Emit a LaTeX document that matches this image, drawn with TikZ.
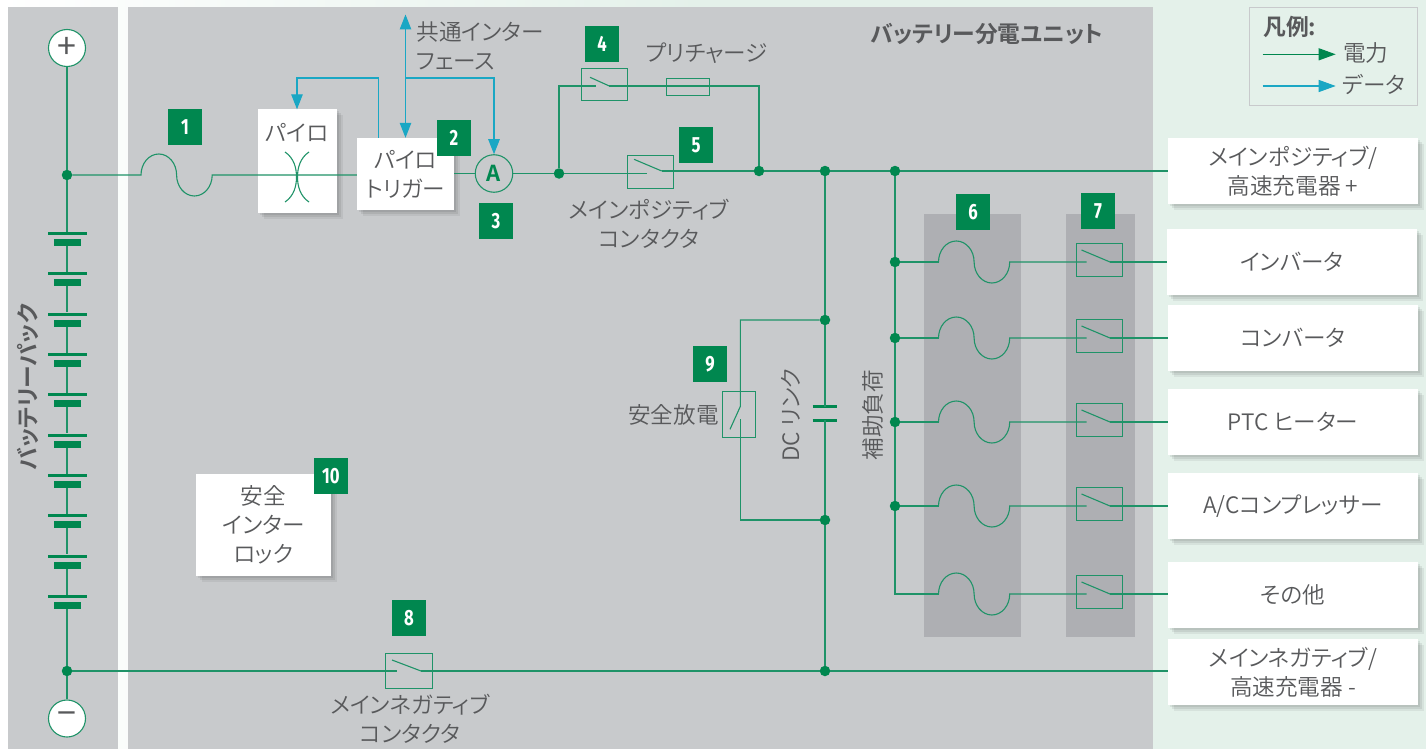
\documentclass[tikz,border=0pt]{standalone}
\usepackage{fontspec}
\setmainfont{Noto Sans CJK JP DemiLight}[RawFeature=+palt, BoldFont={Noto Sans CJK JP Bold}]
\newfontfamily\termfont{Noto Sans CJK JP}
\newfontfamily\badgefont[FakeStretch=0.76]{Fira Sans}
\usetikzlibrary{arrows.meta, positioning, shadows, calc}
\definecolor{bggreen}{HTML}{E4F1EA}
\definecolor{panelgrey}{HTML}{C8CACC}
\definecolor{darkpanel}{HTML}{AEAFB3}
\definecolor{wirecol}{HTML}{1F9368}
\definecolor{dotcol}{HTML}{00874F}
\definecolor{datacol}{HTML}{1AA7C4}
\definecolor{textcol}{HTML}{58595B}
\newcommand{\fusewave}{arc[start angle=180,end angle=360,x radius=17.8,y radius=21] arc[start angle=180,end angle=0,x radius=17.8,y radius=21]}

\begin{document}
\begin{tikzpicture}[x=1pt, y=-1pt,
    wire/.style={draw=wirecol, line width=1.1pt},
    dataline/.style={draw=datacol, line width=1.1pt},
    datahead/.style={-{Triangle[length=15pt,width=11.5pt]}},
    dot/.style={circle, fill=dotcol, inner sep=0pt, minimum size=10.5pt},
    badge/.style={rectangle, fill=dotcol, text=white, font=\badgefont\bfseries\fontsize{22}{22}\selectfont, minimum width=34pt, minimum height=36pt, inner sep=0pt},
    swbox/.style={rectangle, draw=wirecol, line width=1.1pt, inner sep=0pt},
    label/.style={text=textcol, inner sep=0pt, align=center, font=\fontsize{22.6}{29}\selectfont},
    head/.style={text=textcol, inner sep=0pt, font=\bfseries\fontsize{22.8}{29}\selectfont},
    card/.style={rectangle, fill=white, text=textcol, inner sep=0pt, align=center, font=\fontsize{22.6}{29}\selectfont,
        general shadow={fill=black, opacity=.07, shadow xshift=2pt, shadow yshift=-2pt},
        general shadow={fill=black, opacity=.07, shadow xshift=4pt, shadow yshift=-4pt},
        general shadow={fill=black, opacity=.06, shadow xshift=6pt, shadow yshift=-6pt}},
    terminal/.style={circle, draw=wirecol, fill=white, line width=1.1pt, minimum size=37pt, inner sep=0pt, text=textcol, font=\termfont\fontsize{34}{34}\selectfont}]

    % Background
    \fill[bggreen] (0,0) rectangle (1426,749);
    \shade[left color=white, right color=bggreen] (0,0) rectangle (700,749);
    \fill[panelgrey] (8,7) rectangle (118,749);
    \fill[panelgrey] (128,7) rectangle (1153,749);
    \fill[darkpanel] (924,214) rectangle (1021,637);
    \fill[darkpanel] (1066,214) rectangle (1135,637);

    % Boxes
    \node[card, minimum width=79pt, minimum height=103pt] (pyro) at (297.5,161) {};
    \node[label] (pyrotext) at (297,132.5) {パイロ};
    \node[card, minimum width=97pt, minimum height=72pt] (trigger) at (405.5,174) {パイロ\\トリガー};
    \node[card, minimum width=135pt, minimum height=102pt] (interlock) at (263.5,525) {安全\\インター\\ロック};
    \node[card, minimum width=250pt, minimum height=66pt] (mainpos) at (1293,171) {メインポジティブ/\\高速充電器 +};
    \node[card, minimum width=250pt, minimum height=66pt] (inverter) at (1292,262) {インバータ};
    \node[card, minimum width=250pt, minimum height=66pt] (converter) at (1293,338) {コンバータ};
    \node[card, minimum width=250pt, minimum height=66pt] (ptc) at (1293,422) {PTC ヒーター};
    \node[card, minimum width=250pt, minimum height=66pt] (aircon) at (1293,506) {A/Cコンプレッサー};
    \node[card, minimum width=250pt, minimum height=66pt] (other) at (1293,595) {その他};
    \node[card, minimum width=250pt, minimum height=66pt] (mainneg) at (1293,672) {メインネガティブ/\\高速充電器 -};

    % Terminals, junctions
    \node[terminal] (plus) at (67,48) {+};
    \node[terminal] (minus) at (67,718.5) {−};
    \node[dot] (jplus) at (67,175) {};
    \node[dot] (jminus) at (67,671) {};
    \node[dot] (jpre) at (559,173.5) {};
    \node[dot] (jpost) at (759,171) {};
    \node[dot] (jlink) at (825,171) {};
    \node[dot] (jaux) at (895,171) {};
    \node[dot] (jdisa) at (825,320) {};
    \node[dot] (jdisb) at (825,520) {};
    \node[dot] (jneg) at (825,671) {};
    \node[circle, draw=wirecol, line width=1.1pt, minimum size=37.5pt, inner sep=0pt, text=dotcol, font=\bfseries\fontsize{22}{22}\selectfont] (amp) at (494,173.5) {A};

    % Battery
    \coordinate (cellin) at (67,233.5);
    \draw[wire] (plus) -- (jplus);
    \draw[wire] (jplus) -- (cellin);
    \foreach \c in {0,...,9} {
        \fill[dotcol] (48,232+40.33*\c) rectangle (87,235+40.33*\c);
        \fill[dotcol] (54,239+40.33*\c) rectangle (81,246+40.33*\c);
    }
    \foreach \c in {0,...,8} {
        \draw[wire] (67,246+40.33*\c) -- (67,272+40.33*\c);
    }
    \coordinate (cellout) at (67,609);
    \draw[wire] (cellout) -- (jminus);
    \draw[wire] (jminus) -- (minus);

    % Main positive line
    \coordinate (fusea) at (141,175);
    \coordinate (fuseb) at (212,175);
    \draw[wire] (jplus) -- (fusea) \fusewave -- (trigger.west |- fuseb);
    \draw[wire] (trigger.east |- amp) -- (amp);
    \draw[wire] (amp) -- (jpre);
    \node[swbox, minimum width=46pt, minimum height=33pt] (swmain) at (650.7,171.8) {};
    \coordinate (swmainin) at (646.7,173.5);
    \coordinate (swmaintip) at (634,159.3);
    \coordinate (swmainout) at (661.7,171);
    \draw[wire] (jpre) -- (swmainin);
    \draw[wire] (swmaintip) -- (swmainout);
    \draw[wire] (swmainout) -- (jpost);
    \draw[wire] (jpost) -- (jlink);
    \draw[wire] (jlink) -- (jaux);
    \draw[wire] (jaux) -- (mainpos.west |- jaux);

    % Pyro fuse symbol
    \coordinate (pyrotl) at (285,152);
    \coordinate (pyrobl) at (285,202);
    \coordinate (pyrotr) at (309,152);
    \coordinate (pyrobr) at (309,202);
    \draw[wire] (pyrotl) .. controls (294,158) and (296.5,168) .. (296.5,177) .. controls (296.5,186) and (294,196) .. (pyrobl);
    \draw[wire] (pyrotr) .. controls (300,158) and (297.5,168) .. (297.5,177) .. controls (297.5,186) and (300,196) .. (pyrobr);

    % Precharge
    \node[swbox, minimum width=46pt, minimum height=32.5pt] (swpre) at (604.5,84.5) {};
    \node[swbox, minimum width=43pt, minimum height=17pt] (resistor) at (688,86.8) {};
    \coordinate (prea) at (559,86);
    \coordinate (swprein) at (595.7,86);
    \coordinate (swpretip) at (590,77.3);
    \coordinate (swpreout) at (609.3,86);
    \coordinate (preb) at (759,86);
    \draw[wire] (jpre) -- (prea) -- (swprein);
    \draw[wire] (swpretip) -- (swpreout);
    \draw[wire] (swpreout) -- (preb) -- (jpost);

    % DC link
    \node[swbox, minimum width=32.5pt, minimum height=46pt] (swdis) at (739,414.7) {};
    \coordinate (disa) at (740.3,320);
    \coordinate (disin) at (740.3,406.5);
    \coordinate (distip) at (730,429.3);
    \coordinate (disout) at (740.3,419.3);
    \coordinate (disb) at (740.3,520);
    \coordinate (capa) at (825,406.7);
    \coordinate (capb) at (825,420.3);
    \draw[wire] (jdisa) -- (disa) -- (disin) -- (distip);
    \draw[wire] (disout) -- (disb) -- (jdisb);
    \draw[dotcol, line width=3pt] (812.7,406.7) -- (837.3,406.7);
    \draw[dotcol, line width=3pt] (812.7,420.3) -- (837.3,420.3);
    \draw[wire] (jlink) -- (jdisa);
    \draw[wire] (jdisa) -- (capa);
    \draw[wire] (capb) -- (jdisb);
    \draw[wire] (jdisb) -- (jneg);

    % Main negative line
    \node[swbox, minimum width=47.5pt, minimum height=35pt] (swneg) at (409,670.7) {};
    \coordinate (swnegin) at (397,671);
    \coordinate (swnegtip) at (392,660);
    \coordinate (swnegout) at (421,671);
    \draw[wire] (jminus) -- (swnegin);
    \draw[wire] (swnegtip) -- (swnegout);
    \draw[wire] (swnegout) -- (jneg);
    \draw[wire] (jneg) -- (mainneg.west |- jneg);

    % Auxiliary loads
    \foreach \n/\yy/\load in {1/262/inverter,2/338/converter,3/422/ptc,4/506/aircon,5/594/other} {
        \coordinate (fusein\n) at (938.5,\yy);
        \coordinate (fuseout\n) at (1009.7,\yy);
        \node[swbox, minimum width=46.5pt, minimum height=33pt] (sw\n) at (1099.5,\yy-2) {};
        \coordinate (swin\n) at (1086.5,\yy);
        \coordinate (swtip\n) at (1081.5,\yy-12);
        \coordinate (swout\n) at (1110,\yy);
        \draw[wire] (fusein\n) \fusewave -- (swin\n);
        \draw[wire] (swtip\n) -- (swout\n);
        \draw[wire] (swout\n) -- (swout\n -| \load.west);
    }
    \node[dot] (jaux1) at (895,262) {};
    \node[dot] (jaux2) at (895,338) {};
    \node[dot] (jaux3) at (895,422) {};
    \node[dot] (jaux4) at (895,506) {};
    \coordinate (auxend) at (895,594);
    \draw[wire] (jaux) -- (jaux1);
    \draw[wire] (jaux1) -- (jaux2);
    \draw[wire] (jaux2) -- (jaux3);
    \draw[wire] (jaux3) -- (jaux4);
    \draw[wire] (jaux4) -- (auxend) -- (fusein5);
    \draw[wire] (jaux1) -- (fusein1);
    \draw[wire] (jaux2) -- (fusein2);
    \draw[wire] (jaux3) -- (fusein3);
    \draw[wire] (jaux4) -- (fusein4);

    % Data lines
    \coordinate (bustop) at (405.5,14.5);
    \coordinate (busmid) at (405.5,78);
    \coordinate (busamp) at (494,78);
    \coordinate (trigout) at (378.6,78);
    \coordinate (pyroin) at (297,78);
    \draw[dataline, {Triangle[length=15pt,width=11.5pt]}-{Triangle[length=15pt,width=11.5pt]}] (bustop) -- (bustop |- trigger.north);
    \draw[dataline, datahead] (busmid) -- (busamp) -- (amp.north);
    \draw[dataline, datahead] (trigout |- trigger.north) -- (trigout) -- (pyroin) -- (pyroin |- pyro.north);

    % Labels
    \node[label, align=left] (lbus) at (480,45.5) {共通インター\\フェース};
    \node[label] (lpre) at (706.7,53) {プリチャージ};
    \node[label] (lposc) at (649,223.5) {メインポジティブ\\コンタクタ};
    \node[label] (lnegc) at (410,718.5) {メインネガティブ\\コンタクタ};
    \node[label] (ldis) at (673.5,415) {安全放電};
    \node[label, rotate=90] (llink) at (790.5,415) {DC リンク};
    \node[label, rotate=90] (laux) at (872.5,415) {補助負荷};
    \node[head, rotate=90] (lpack) at (28,387) {バッテリーパック};
    \node[head] (lunit) at (987,34) {バッテリー分電ユニット};

    % Legend
    \node[rectangle, draw=panelgrey, line width=1.1pt, minimum width=168pt, minimum height=98pt, inner sep=0pt] (legend) at (1333.5,56.5) {};
    \node[head, anchor=west] (ltitle) at (1263,27) {凡例:};
    \coordinate (powa) at (1262.7,54.3);
    \coordinate (powb) at (1335.7,54.3);
    \coordinate (dataa) at (1262.7,86);
    \coordinate (datab) at (1335.7,86);
    \draw[draw=dotcol, line width=1.1pt, -{Triangle[length=17pt,width=12pt]}] (powa) -- (powb);
    \draw[dataline, -{Triangle[length=17pt,width=12pt]}] (dataa) -- (datab);
    \node[label] (lpow) at (1365.7,53) {電力};
    \node[label] (ldata) at (1374,85) {データ};

    % Badges
    \node[badge] (b1) at (185,127) {1};
    \node[badge] (b2) at (454,138) {2};
    \node[badge] (b3) at (496,221) {3};
    \node[badge] (b4) at (602,44) {4};
    \node[badge] (b5) at (696,145) {5};
    \node[badge] (b6) at (973,212) {6};
    \node[badge] (b7) at (1098,211) {7};
    \node[badge] (b8) at (409,618) {8};
    \node[badge] (b9) at (710,364) {9};
    \node[badge] (b10) at (331,476) {10};

    \useasboundingbox (0,0) rectangle (1426,749);
\end{tikzpicture}
\end{document}
